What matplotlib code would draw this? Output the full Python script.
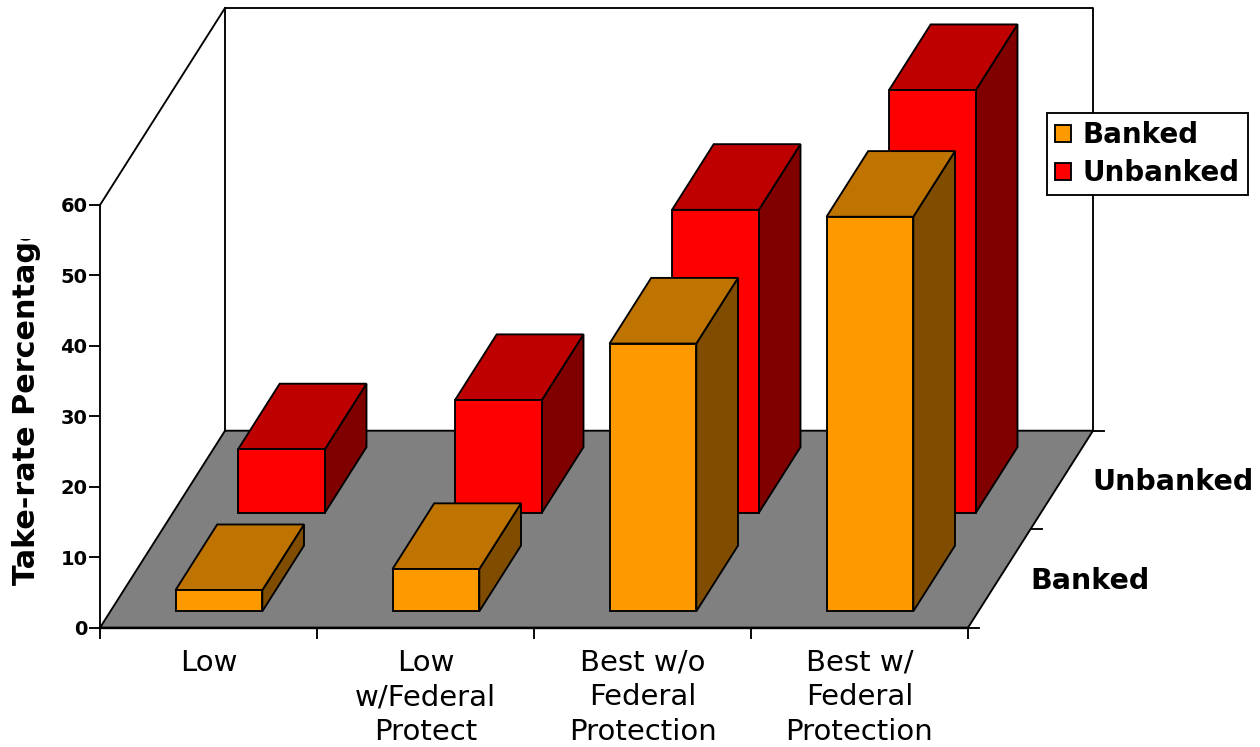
import matplotlib
matplotlib.use("Agg")
import matplotlib.pyplot as plt
from matplotlib.patches import Polygon, Patch
from matplotlib.transforms import Bbox, TransformedBbox

# ---- data -------------------------------------------------------------
categories = [
    "Low",
    "Low\nw/Federal\nProtect",
    "Best w/o\nFederal\nProtection",
    "Best w/\nFederal\nProtection",
]
series_names = ["Banked", "Unbanked"]
banked = [3, 6, 38, 56]
unbanked = [9, 16, 43, 60]
y_ticks = [0, 10, 20, 30, 40, 50, 60]

# ---- styling ----------------------------------------------------------
front_colors = ["#FF9900", "#FF0000"]
top_colors = ["#BF7300", "#BF0000"]
side_colors = ["#804D00", "#800000"]
floor_color = "#808080"
edge_lw = 1.35

# ---- layout (pixels) --------------------------------------------------
W, H, DPI = 1260, 747, 100
origin_x, origin_y = 100.0, 627.7      # front-left floor corner, from top
cat_px = 217.0                         # width of one category slot
val_px = 7.045                         # pixels per value unit
depth_px = (125.0, 197.0)              # oblique depth vector (right, up)
bar_width = 0.4                        # fraction of a category slot
bar_depth = 1.0 / 3.0                  # fraction of the total depth
y_max = y_ticks[-1]
n_cat = len(categories)

fig = plt.figure(figsize=(W / DPI, H / DPI), dpi=DPI)
ax = fig.add_axes([0, 0, 1, 1])
ax.set_xlim(-origin_x / cat_px, (W - origin_x) / cat_px)
ax.set_ylim(-(H - origin_y) / val_px, origin_y / val_px)

DX = depth_px[0] / cat_px
DY = depth_px[1] / val_px


def proj(x, v, d):
    """Oblique projection: category position, value, depth fraction."""
    return (x + d * DX, v + d * DY)


# floor
floor = Polygon([proj(0, 0, 0), proj(n_cat, 0, 0), proj(n_cat, 0, 1), proj(0, 0, 1)],
                closed=True, fc=floor_color, ec="black", lw=edge_lw, zorder=1)
ax.add_patch(floor)

# wall outlines
wall = [proj(0, 0, 1), proj(0, y_max, 1), proj(n_cat, y_max, 1), proj(n_cat, 0, 1)]
ax.plot([p[0] for p in wall], [p[1] for p in wall], color="black", lw=edge_lw, zorder=1)
side_top = [proj(0, y_max, 0), proj(0, y_max, 1)]
ax.plot([p[0] for p in side_top], [p[1] for p in side_top], color="black", lw=edge_lw, zorder=1)

# depth axis ticks and series labels
tick_len = 11.0 / cat_px
for d in [0.0, 0.5, 1.0]:
    px, py = proj(n_cat, 0, d)
    ax.plot([px, px + tick_len], [py, py], color="black", lw=edge_lw, zorder=1)
for s, name in enumerate(series_names):
    px, py = proj(n_cat, 0, s * 0.5 + 0.25)
    ax.text(px + 31.0 / cat_px, py - 2.5 / val_px, name, ha="left", va="center",
            fontsize=20.5, fontweight="bold", family="DejaVu Sans")

# bars: back row first so the front row overlaps it
all_values = [banked, unbanked]
for s in reversed(range(len(all_values))):
    vals = all_values[s]
    d0 = s * 0.5 + (0.5 - bar_depth) / 2
    d1 = d0 + bar_depth
    for i, v in enumerate(vals):
        x0 = i + (1 - bar_width) / 2
        x1 = x0 + bar_width
        front = [proj(x0, 0, d0), proj(x1, 0, d0), proj(x1, v, d0), proj(x0, v, d0)]
        top = [proj(x0, v, d0), proj(x1, v, d0), proj(x1, v, d1), proj(x0, v, d1)]
        side = [proj(x1, 0, d0), proj(x1, 0, d1), proj(x1, v, d1), proj(x1, v, d0)]
        z = 3 + (len(all_values) - s)
        for poly, col in [(side, side_colors[s]), (top, top_colors[s]), (front, front_colors[s])]:
            ax.add_patch(Polygon(poly, closed=True, fc=col, ec="black", lw=edge_lw,
                                 joinstyle="miter", zorder=z))

# axes spines and ticks
for sp in ["top", "right"]:
    ax.spines[sp].set_visible(False)
ax.spines["left"].set_position(("data", 0))
ax.spines["left"].set_bounds(0, y_max)
ax.spines["bottom"].set_position(("data", 0))
ax.spines["bottom"].set_bounds(0, n_cat)
ax.spines["left"].set_linewidth(edge_lw)
ax.spines["bottom"].set_linewidth(1.7)
ax.spines["left"].set_zorder(2)
ax.spines["bottom"].set_zorder(2)

ax.set_yticks(y_ticks)
ax.set_yticklabels([str(t) for t in y_ticks])
ax.tick_params(axis="y", direction="out", length=8, width=edge_lw, pad=1, labelsize=14)
for lab in ax.get_yticklabels():
    lab.set_fontweight("bold")

ax.set_xticks(range(n_cat + 1))
ax.set_xticklabels([""] * (n_cat + 1))
ax.set_xticks([i + 0.5 for i in range(n_cat)], minor=True)
ax.set_xticklabels(categories, minor=True)
ax.tick_params(axis="x", which="major", direction="out", length=8, width=edge_lw)
ax.tick_params(axis="x", which="minor", length=0, pad=15, labelsize=21)
for lab in ax.get_xticklabels(minor=True):
    lab.set_multialignment("center")
    lab.set_linespacing(1.3)

# axis title, clipped at the top like a fixed-size title box
title = fig.text(35.0 / W, 1 - 585.0 / H, "Take-rate Percentage", rotation=90,
                 rotation_mode="anchor", ha="left", va="baseline",
                 fontsize=21.8, fontweight="bold")
title.set_clip_box(TransformedBbox(Bbox([[0, 0], [1, 1 - 239.0 / H]]), fig.transFigure))
title.set_clip_on(True)

# legend
handles = [Patch(fc=front_colors[s], ec="black", lw=edge_lw, label=series_names[s])
           for s in range(len(series_names))]
leg = fig.legend(handles=handles, loc="upper left", bbox_to_anchor=(1047.0 / W, 1 - 113.0 / H),
                 prop=dict(weight="bold", size=20), frameon=True, fancybox=False,
                 edgecolor="black", framealpha=1, borderaxespad=0, handlelength=0.58,
                 handleheight=0.58, handletextpad=0.4, borderpad=0.3, labelspacing=0.35)
leg.get_frame().set_linewidth(edge_lw)

fig.savefig("out.png", dpi=DPI)
